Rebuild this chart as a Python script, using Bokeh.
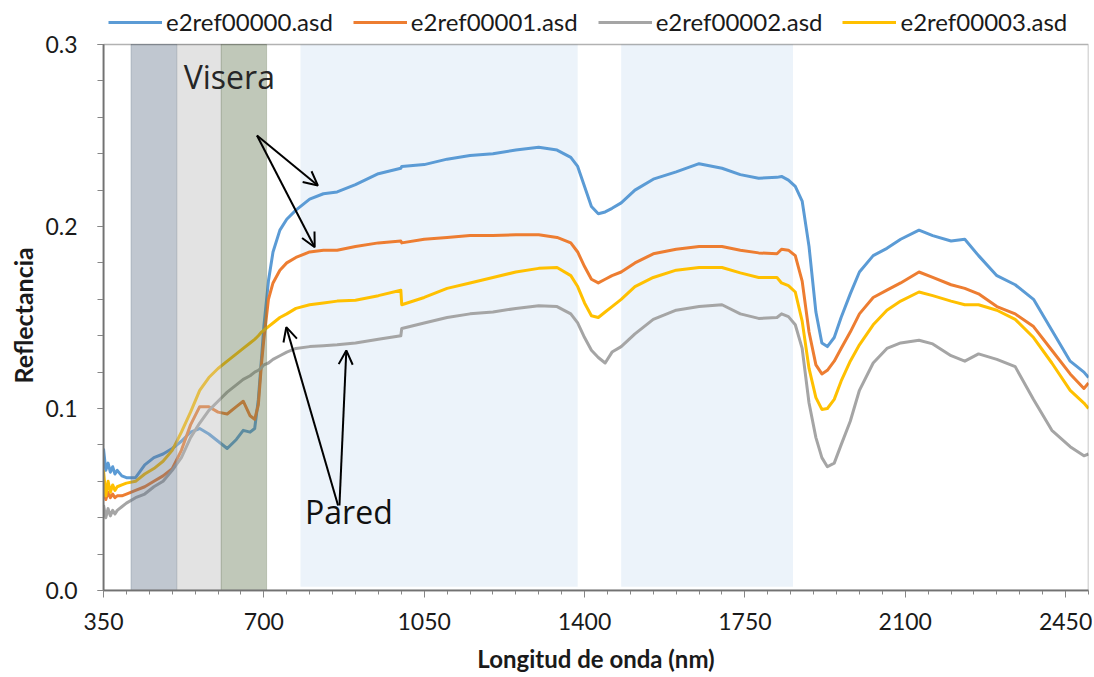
import numpy as np
from bokeh.plotting import figure
from bokeh.models import (ColumnDataSource, FixedTicker, Legend, LegendItem, Arrow,
                          OpenHead, Label, Range1d, PrintfTickFormatter, BoxAnnotation, Title)
from bokeh.embed import file_html
from bokeh.resources import INLINE

# ---------------- data ----------------
wavelength = [
    350, 355, 360, 365, 370, 375, 380, 390, 400, 420,
    440, 460, 480, 500, 520, 540, 560, 580, 600, 620,
    640, 655, 670, 680, 688, 695, 700, 710, 720, 735,
    750, 770, 800, 830, 860, 900, 950, 999, 1001, 1050,
    1100, 1150, 1200, 1250, 1300, 1340, 1370, 1385, 1400, 1415,
    1430, 1445, 1460, 1480, 1510, 1550, 1600, 1650, 1700, 1740,
    1780, 1820, 1830, 1845, 1860, 1875, 1890, 1905, 1918, 1930,
    1945, 1960, 1980, 2000, 2030, 2060, 2090, 2130, 2160, 2200,
    2230, 2260, 2300, 2340, 2380, 2420, 2460, 2490, 2500]

ref00000 = [
    0.078, 0.066, 0.070, 0.065, 0.068, 0.064, 0.066, 0.063, 0.062, 0.062,
    0.069, 0.073, 0.075, 0.078, 0.082, 0.087, 0.089, 0.086, 0.082, 0.078,
    0.083, 0.088, 0.087, 0.089, 0.105, 0.128, 0.145, 0.170, 0.186, 0.198,
    0.204, 0.209, 0.215, 0.218, 0.219, 0.223, 0.229, 0.232, 0.233, 0.234,
    0.237, 0.239, 0.240, 0.242, 0.2435, 0.242, 0.238, 0.233, 0.222, 0.211,
    0.207, 0.208, 0.210, 0.213, 0.220, 0.226, 0.230, 0.2345, 0.232, 0.2285,
    0.2265, 0.227, 0.2275, 0.2255, 0.222, 0.214, 0.189, 0.153, 0.136, 0.134,
    0.139, 0.150, 0.163, 0.175, 0.184, 0.188, 0.193, 0.198, 0.195, 0.192,
    0.193, 0.184, 0.173, 0.168, 0.160, 0.143, 0.126, 0.120, 0.117]

ref00001 = [
    0.056, 0.050, 0.054, 0.051, 0.053, 0.051, 0.052, 0.052, 0.053, 0.055,
    0.057, 0.060, 0.063, 0.067, 0.077, 0.091, 0.101, 0.101, 0.098, 0.097,
    0.101, 0.104, 0.096, 0.094, 0.102, 0.125, 0.138, 0.160, 0.169, 0.176,
    0.180, 0.183, 0.186, 0.187, 0.187, 0.189, 0.191, 0.192, 0.191, 0.193,
    0.194, 0.195, 0.195, 0.1955, 0.1955, 0.194, 0.191, 0.186, 0.178, 0.171,
    0.169, 0.171, 0.173, 0.175, 0.180, 0.185, 0.1875, 0.189, 0.189, 0.187,
    0.1855, 0.185, 0.1875, 0.187, 0.184, 0.170, 0.142, 0.124, 0.119, 0.121,
    0.126, 0.133, 0.142, 0.152, 0.161, 0.165, 0.169, 0.175, 0.172, 0.168,
    0.166, 0.163, 0.156, 0.152, 0.145, 0.132, 0.119, 0.111, 0.114]

ref00002 = [
    0.047, 0.040, 0.045, 0.041, 0.044, 0.042, 0.044, 0.046, 0.048, 0.051,
    0.053, 0.057, 0.060, 0.066, 0.073, 0.084, 0.092, 0.099, 0.104, 0.109,
    0.113, 0.116, 0.118, 0.120, 0.121, 0.1225, 0.124, 0.125, 0.127, 0.129,
    0.131, 0.133, 0.134, 0.1345, 0.135, 0.136, 0.138, 0.140, 0.144, 0.147,
    0.150, 0.152, 0.153, 0.155, 0.1565, 0.156, 0.152, 0.147, 0.139, 0.132,
    0.128, 0.125, 0.131, 0.134, 0.141, 0.149, 0.154, 0.156, 0.157, 0.152,
    0.1495, 0.150, 0.152, 0.1505, 0.146, 0.133, 0.103, 0.084, 0.073, 0.068,
    0.070, 0.080, 0.093, 0.110, 0.125, 0.133, 0.136, 0.1375, 0.1355, 0.129,
    0.126, 0.130, 0.127, 0.123, 0.105, 0.088, 0.079, 0.074, 0.075]

ref00003 = [
    0.066, 0.052, 0.060, 0.054, 0.058, 0.055, 0.057, 0.058, 0.059, 0.060,
    0.064, 0.067, 0.071, 0.077, 0.087, 0.098, 0.110, 0.117, 0.122, 0.126,
    0.130, 0.133, 0.136, 0.138, 0.140, 0.142, 0.143, 0.145, 0.147, 0.150,
    0.152, 0.155, 0.157, 0.158, 0.159, 0.1595, 0.162, 0.165, 0.157, 0.161,
    0.166, 0.169, 0.172, 0.175, 0.177, 0.1775, 0.173, 0.167, 0.158, 0.151,
    0.150, 0.153, 0.156, 0.160, 0.167, 0.172, 0.176, 0.1775, 0.1775, 0.1745,
    0.172, 0.172, 0.169, 0.1675, 0.164, 0.148, 0.122, 0.106, 0.0995, 0.100,
    0.105, 0.115, 0.126, 0.135, 0.146, 0.154, 0.159, 0.164, 0.162, 0.159,
    0.157, 0.157, 0.154, 0.149, 0.139, 0.125, 0.110, 0.103, 0.100]

series_names = ["e2ref00000.asd", "e2ref00001.asd", "e2ref00002.asd", "e2ref00003.asd"]
series_values = [ref00000, ref00001, ref00002, ref00003]
series_colors = ["#5b9bd5", "#ed7d31", "#a5a5a5", "#ffc000"]

# shaded wavelength bands (nm)
swir_band_start = [780, 1480]
swir_band_end = [1385, 1855]
vis_band_start = [410, 510, 607]
vis_band_end = [510, 607, 706]
vis_band_colors = ["#61738a", "#b9b9b9", "#617550"]

x_major = [350, 700, 1050, 1400, 1750, 2100, 2450]
y_major = [0.0, 0.1, 0.2, 0.3]
Y_MAX = 0.3

FONT = "Lato"

# frame: plot area (546 px) + a 40 px strip on top that carries the legend
PLOT_H = 546
STRIP_H = 40
y_top = Y_MAX * (PLOT_H + STRIP_H) / PLOT_H

p = figure(width=1092, height=675, x_range=Range1d(350, 2500), y_range=Range1d(0, y_top),
           output_backend="svg", toolbar_location=None,
           min_border_left=103, min_border_right=4, min_border_top=4, min_border_bottom=85)
p.background_fill_color = "white"
p.border_fill_color = "white"
p.outline_line_color = None
p.xgrid.visible = False
p.ygrid.visible = False

# light blue bands under the lines
p.quad(left=swir_band_start, right=swir_band_end, bottom=0.002, top=Y_MAX,
       fill_color="#ecf3fa", line_color=None)

line_renderers = []
for name, vals, col in zip(series_names, series_values, series_colors):
    src = ColumnDataSource(dict(x=wavelength, y=vals))
    r = p.line("x", "y", source=src, line_color=col, line_width=3, line_join="round")
    line_renderers.append(r)

# translucent visible-spectrum bands over the lines
p.quad(left=vis_band_start, right=vis_band_end, bottom=0, top=Y_MAX,
       fill_color=vis_band_colors, fill_alpha=0.4, line_color=vis_band_colors,
       line_alpha=0.3, line_width=1)

# plot-area border (top/right black)
p.add_layout(BoxAnnotation(left=350, right=2500, bottom=0, top=Y_MAX, fill_alpha=0,
                           line_color="black", line_width=1.5))

# axes
p.xaxis.ticker = FixedTicker(ticks=x_major, minor_ticks=list(range(350, 2501, 50)))
p.yaxis.ticker = FixedTicker(ticks=y_major, minor_ticks=[round(v, 2) for v in np.arange(0, 0.301, 0.02)])
p.yaxis.bounds = (0, Y_MAX)
p.yaxis.formatter = PrintfTickFormatter(format="%.1f")
for ax in (p.xaxis[0], p.yaxis[0]):
    ax.axis_line_color = "#868686"
    ax.axis_line_width = 2
    ax.major_tick_line_color = "#868686"
    ax.minor_tick_line_color = "#868686"
    ax.major_tick_in = 0
    ax.minor_tick_in = 0
    ax.major_label_text_font = FONT
    ax.major_label_text_font_size = "23px"
    ax.major_label_text_color = "#1a1a1a"
    ax.axis_label_text_font = FONT
    ax.axis_label_text_font_style = "bold"
    ax.axis_label_text_color = "#1a1a1a"
p.xaxis.axis_label_text_font_size = "24px"
p.xaxis.major_tick_out = 7
p.xaxis.minor_tick_out = 4
p.yaxis.major_tick_out = 6
p.yaxis.minor_tick_out = 6
p.xaxis.major_label_standoff = 15
p.yaxis.major_label_standoff = 20
p.xaxis.axis_label = "Longitud de onda (nm)"
p.xaxis.axis_label_standoff = 11

# y-axis title, centred on the plot area (not on the legend strip)
p.add_layout(Title(text="Reflectancia", align="left", offset=207, standoff=10,
                   text_font=FONT, text_font_style="bold", text_font_size="25px",
                   text_color="#1a1a1a"), "left")

# annotations
head = dict(size=14, line_width=2, line_color="black")
p.add_layout(Arrow(end=OpenHead(**head), x_start=685, y_start=0.250, x_end=818, y_end=0.2225,
                   line_width=2, line_color="black"))
p.add_layout(Arrow(end=OpenHead(**head), x_start=685, y_start=0.250, x_end=811, y_end=0.1886,
                   line_width=2, line_color="black"))
p.add_layout(Arrow(end=OpenHead(**head), x_start=862, y_start=0.0467, x_end=749, y_end=0.1447,
                   line_width=2, line_color="black"))
p.add_layout(Arrow(end=OpenHead(**head), x_start=865, y_start=0.0467, x_end=880, y_end=0.1319,
                   line_width=2, line_color="black"))
p.add_layout(Label(x=525, y=0.2824, text="Visera", text_font="Open Sans",
                   text_font_size="32px", text_color="#262626", text_baseline="alphabetic"))
p.add_layout(Label(x=790, y=0.0434, text="Pared", text_font="Open Sans",
                   text_font_size="32px", text_color="#111111", text_baseline="alphabetic"))

# legend in the strip above the plot area
legend = Legend(items=[LegendItem(label=n, renderers=[r]) for n, r in zip(series_names, line_renderers)],
                orientation="horizontal", location=(5, PLOT_H + STRIP_H - 16 - 16),
                label_text_font=FONT, label_text_font_size="24px", label_text_color="#1a1a1a",
                glyph_width=54, glyph_height=20, label_standoff=4, spacing=20,
                padding=0, margin=0, border_line_color=None, background_fill_alpha=0)
p.add_layout(legend)

open("out.html", "w").write(file_html(p, INLINE))
